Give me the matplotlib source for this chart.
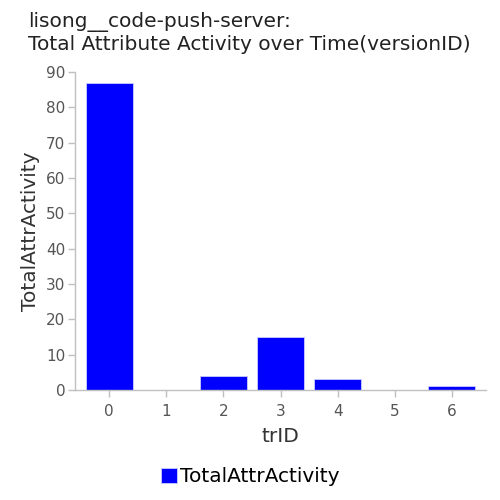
import matplotlib
matplotlib.use("Agg")
import matplotlib.pyplot as plt
from matplotlib.patches import Patch

trID = [0, 1, 2, 3, 4, 5, 6]
total_attr_activity = [87, 0, 4, 15, 3, 0, 1]
yticks = [0, 10, 20, 30, 40, 50, 60, 70, 80, 90]

plt.rcParams['font.family'] = ['DejaVu Sans']

fig = plt.figure(figsize=(5, 5), dpi=100)
ax = fig.add_axes([0.15, 0.22, 0.822, 0.636])

ax.bar(trID, total_attr_activity, width=0.82, color='#0000ff',
       edgecolor='#ccccff', linewidth=0.6)

ax.set_xlim(-0.6, 6.6)
ax.set_ylim(0, 90)
ax.set_xticks(trID)
ax.set_yticks(yticks)

for s in ['top', 'right']:
    ax.spines[s].set_visible(False)
for s in ['left', 'bottom']:
    ax.spines[s].set_color('#c0c0c0')
    ax.spines[s].set_linewidth(1)
ax.tick_params(axis='both', colors='#c0c0c0', labelcolor='#555555',
               labelsize=11, length=5, width=1)
ax.tick_params(axis='x', pad=5)
ax.tick_params(axis='y', pad=2)

ax.set_xlabel('trID', fontsize=14.5, color='#333333', labelpad=6)
ax.set_ylabel('TotalAttrActivity', fontsize=14.5, color='#333333', labelpad=4)

fig.text(0.056, 0.946, 'lisong__code-push-server:', fontsize=14.5,
         color='#222222', va='baseline', ha='left')
fig.text(0.056, 0.901, 'Total Attribute Activity over Time(versionID)',
         fontsize=14.5, color='#222222', va='baseline', ha='left')

handle = Patch(facecolor='#0000ff', edgecolor='#ccccff', linewidth=0.6)
fig.legend([handle], ['TotalAttrActivity'], loc='center',
           bbox_to_anchor=(0.5, 0.046), frameon=False, fontsize=14.5,
           handlelength=0.8, handleheight=0.8, handletextpad=0.15,
           borderaxespad=0)

fig.savefig('out.png', dpi=100)
